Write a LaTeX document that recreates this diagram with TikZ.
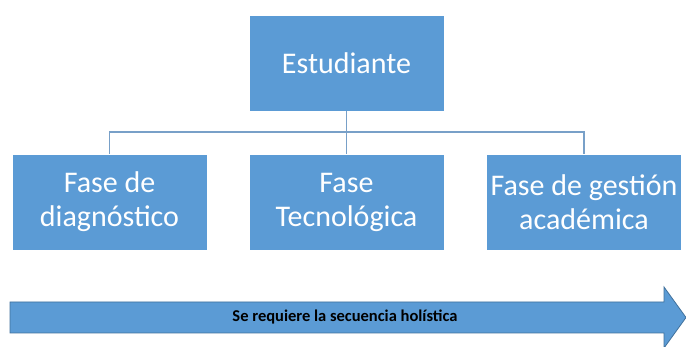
\documentclass[tikz,border=0pt]{standalone}
\usepackage{fontspec}
\setmainfont{Carlito}
\begin{document}
\begin{tikzpicture}[x=1pt,y=-1pt,
  box/.style={draw=white, line width=0.8pt, fill=boxblue, minimum width=195pt, minimum height=96pt,
    text=white, align=center, font=\fontsize{30}{34}\selectfont, inner sep=0pt},
  conn/.style={draw=linecol, line width=1.6pt}]
\definecolor{boxblue}{RGB}{91,155,213}
\definecolor{linecol}{RGB}{120,160,200}
\definecolor{arrowedge}{RGB}{65,113,156}
\useasboundingbox (0,0) rectangle (686,347);
\fill[white] (0,0) rectangle (686,347);
\node[box] (top) at (346.5,63) {Estudiante};
\node[box] (l) at (109.5,202) {Fase de\\diagnóstico};
\node[box] (m) at (346.5,202) {Fase\\Tecnológica};
\node[box] (r) at (584,202) {Fase de gestión\\académica};
\coordinate (j) at (346.5,132);
\draw[conn] (top.south) -- (j);
\draw[conn] (j) -- (m.north);
\draw[conn] (l.north) |- (j) -| (r.north);
\draw[fill=boxblue, draw=arrowedge, line width=0.8pt]
  (10,302) -- (664,302) -- (664,287) -- (686,317.5) -- (664,348) -- (664,333) -- (10,333) -- cycle;
\node[font=\bfseries\fontsize{16.5}{18}\selectfont, text=black] (lbl) at (345,317) {Se requiere la secuencia holística};
\end{tikzpicture}
\end{document}
